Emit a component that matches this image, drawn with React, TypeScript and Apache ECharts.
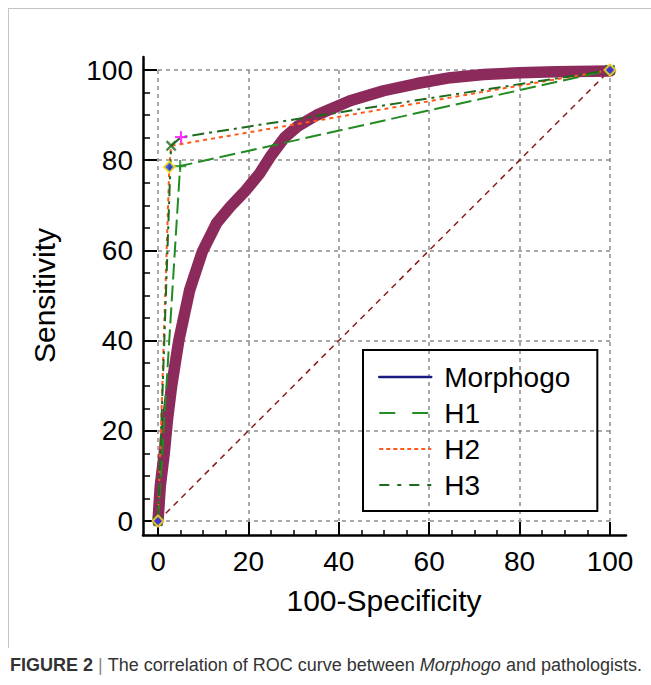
import React, { useEffect, useRef } from 'react';
import * as echarts from 'echarts';

const axisTicks = [0, 20, 40, 60, 80, 100];
const minorStep = 5;
const seriesNames = ['Morphogo', 'H1', 'H2', 'H3'];

const morphogoX = [0, 0.5, 1.4, 2.1, 3.0, 4.6, 7.0, 9.8, 13.0, 15.9, 19.5, 22.5, 25.0, 28.0, 31.0, 35.1, 42.5, 49.9, 57.3, 64.7, 72.0, 80.0, 88.0, 100];
const morphogoY = [0, 7.7, 15.2, 22.5, 29.8, 40.0, 51.2, 59.7, 66.1, 69.6, 73.4, 77.1, 81.0, 85.0, 87.6, 90.0, 93.2, 95.4, 97.0, 98.3, 99.0, 99.4, 99.6, 99.8];

const h1 = [[0, 0], [4.9, 78.7], [100, 100]];
const h2 = [[0, 0], [2.5, 78.5], [2.9, 83.2], [100, 100]];
const h3 = [[0, 0], [2.9, 83.2], [5.1, 85.1], [100, 100]];
const refLine = [[0, 0], [100, 100]];

const diamondMarks = [[0, 0], [2.5, 78.5], [100, 100]];
const greenPlusMarks = [[0, 0], [4.9, 78.7], [100, 100]];
const crossMarks = [[0, 0], [2.9, 83.2], [100, 100]];
const magentaPlusMarks = [[0, 0], [5.1, 85.1], [100, 100]];

const PLUS = 'path://M4.1,0H5.9V4.1H10V5.9H5.9V10H4.1V5.9H0V4.1H4.1Z';
const FONT = 'Liberation Sans, Arial, Helvetica, sans-serif';

// layout (pixels)
const W = 651;
const H = 685;
const plotL = 158;
const plotR = 610;
const plotT = 70;
const plotB = 521;
const frameL = 143;
const frameR = 626;
const frameT = 57;
const frameB = 535;

export default function App() {
  const ref = useRef<HTMLDivElement>(null);
  useEffect(() => {
    if (!ref.current) return;
    const chart = echarts.init(ref.current, undefined, { renderer: 'svg' });
    const morphogo = morphogoX.map((x, i) => [x, morphogoY[i]]);
    const tickMin = axisTicks[0];
    const tickMax = axisTicks[axisTicks.length - 1];
    const tickInterval = axisTicks[1] - axisTicks[0];
    const minorTicks: number[] = [];
    for (let v = tickMin; v <= tickMax; v += minorStep) {
      if (!axisTicks.includes(v)) minorTicks.push(v);
    }

    const sx = (plotR - plotL) / (tickMax - tickMin);
    const sy = (plotB - plotT) / (tickMax - tickMin);
    const fxMin = tickMin + (frameL - plotL) / sx;
    const fxMax = tickMin + (frameR - plotL) / sx;
    const fyMin = tickMin - (frameB - plotB) / sy;
    const fyMax = tickMin + (plotB - frameT) / sy;

    const valueAxis = (isX: boolean) => ({
      type: 'value',
      gridIndex: 0,
      min: tickMin,
      max: tickMax,
      interval: tickInterval,
      offset: isX ? frameB - plotB : plotL - frameL,
      name: isX ? '100-Specificity' : 'Sensitivity',
      nameLocation: 'middle',
      nameGap: isX ? 50 : 84,
      nameTextStyle: { fontSize: 30, color: '#000', fontFamily: FONT },
      axisLine: { show: false },
      axisTick: { show: false },
      axisLabel: { fontSize: 28, color: '#000', fontFamily: FONT, margin: isX ? 12 : 10 },
      splitLine: { show: true, lineStyle: { color: '#8c8c8c', width: 1.5, type: [4, 4] } },
    });

    const frameAxis = (isX: boolean, gridIndex: number, values: number[], len: number, width: number, showLine: boolean) => ({
      type: 'value',
      gridIndex,
      min: isX ? fxMin : fyMin,
      max: isX ? fxMax : fyMax,
      axisLine: { show: showLine, onZero: false, lineStyle: { color: '#000', width: 2.5 } },
      axisTick: { show: true, inside: true, length: len, customValues: values, lineStyle: { color: '#000', width } },
      axisLabel: { show: false },
      splitLine: { show: false },
    });

    const markSeries = (data: number[][], symbol: string, size: number, color: string, rotate = 0, border?: string) => ({
      type: 'scatter',
      data,
      symbol,
      symbolSize: size,
      symbolRotate: rotate,
      itemStyle: border ? { color, borderColor: border, borderWidth: 2 } : { color },
      z: 10,
      silent: true,
    });

    const frameGrid = { left: frameL, right: W - frameR, top: frameT, bottom: H - frameB };

    chart.setOption({
      animation: false,
      textStyle: { fontFamily: FONT },
      grid: [
        { left: plotL, right: W - plotR, top: plotT, bottom: H - plotB },
        frameGrid,
        frameGrid,
      ],
      xAxis: [
        valueAxis(true),
        frameAxis(true, 1, axisTicks, 13, 2, true),
        frameAxis(true, 2, minorTicks, 5, 1.5, false),
      ],
      yAxis: [
        valueAxis(false),
        frameAxis(false, 1, axisTicks, 14, 2, true),
        frameAxis(false, 2, minorTicks, 7, 1.5, false),
      ],
      legend: {
        orient: 'vertical',
        left: 363,
        top: 350,
        padding: [13, 27, 12, 15],
        borderColor: '#000',
        borderWidth: 2,
        itemWidth: 52,
        itemHeight: 14,
        itemGap: 8,
        selectedMode: false,
        textStyle: { fontSize: 28, color: '#000', fontFamily: FONT, padding: [0, 0, 0, 8] },
        data: [
          { name: seriesNames[0], itemStyle: { opacity: 0 }, lineStyle: { color: '#1a1a80', width: 2.5, type: 'solid', opacity: 1 } },
          { name: seriesNames[1], itemStyle: { opacity: 0 }, lineStyle: { color: '#228b22', width: 2, type: [16, 17], opacity: 1 } },
          { name: seriesNames[2], itemStyle: { opacity: 0 }, lineStyle: { color: '#ff5a1a', width: 2, type: [4, 3], opacity: 1 } },
          { name: seriesNames[3], itemStyle: { opacity: 0 }, lineStyle: { color: '#1e6b1e', width: 2, type: [10, 8, 4, 8], opacity: 1 } },
        ],
      },
      series: [
        {
          type: 'line',
          data: refLine,
          symbol: 'none',
          lineStyle: { color: '#8b1c1c', width: 1.5, type: [6, 5] },
          z: 1,
          silent: true,
        },
        {
          name: seriesNames[0],
          type: 'line',
          data: morphogo,
          symbol: 'none',
          itemStyle: { color: '#1a1a80' },
          lineStyle: { color: '#8c2a5c', width: 11.5, join: 'round', cap: 'round' },
          z: 2,
        },
        {
          name: seriesNames[1],
          type: 'line',
          data: h1,
          symbol: 'none',
          itemStyle: { color: '#228b22' },
          lineStyle: { color: '#228b22', width: 2, type: [16, 6] },
          z: 3,
        },
        {
          name: seriesNames[2],
          type: 'line',
          data: h2,
          symbol: 'none',
          itemStyle: { color: '#ff5a1a' },
          lineStyle: { color: '#ff5a1a', width: 2, type: [4, 4] },
          z: 3,
        },
        {
          name: seriesNames[3],
          type: 'line',
          data: h3,
          symbol: 'none',
          itemStyle: { color: '#1e6b1e' },
          lineStyle: { color: '#1e6b1e', width: 2, type: [12, 5, 3, 5] },
          z: 3,
        },
        markSeries(greenPlusMarks, PLUS, 12, '#1e8a1e'),
        markSeries(crossMarks, PLUS, 13, '#1e6b1e', 45),
        markSeries(magentaPlusMarks, PLUS, 12, '#ff00ff'),
        markSeries(diamondMarks, 'diamond', 11, '#1f3fd6', 0, '#ffe21a'),
      ],
      graphic: [
        { type: 'line', shape: { x1: 8, y1: 8.5, x2: W, y2: 8.5 }, style: { stroke: '#c4c4c4', lineWidth: 1 }, silent: true },
        { type: 'line', shape: { x1: 8.5, y1: 8, x2: 8.5, y2: 648 }, style: { stroke: '#c4c4c4', lineWidth: 1 }, silent: true },
        {
          type: 'text',
          left: 10,
          top: 656,
          silent: true,
          style: {
            text: '{b|FIGURE 2}{s| | }The correlation of ROC curve between {i|Morphogo} and pathologists.',
            fontSize: 18,
            fontFamily: FONT,
            fill: '#333',
            rich: {
              b: { fontWeight: 'bold', fontSize: 18, fill: '#333', fontFamily: FONT },
              s: { fontSize: 18, fill: '#888', fontFamily: FONT },
              i: { fontStyle: 'italic', fontSize: 18, fill: '#333', fontFamily: FONT },
            },
          },
        },
      ],
    });
    return () => chart.dispose();
  }, []);
  return <div ref={ref} style={{ position: 'fixed', left: 0, top: 0, width: W, height: H, background: '#fff' }} />;
}
